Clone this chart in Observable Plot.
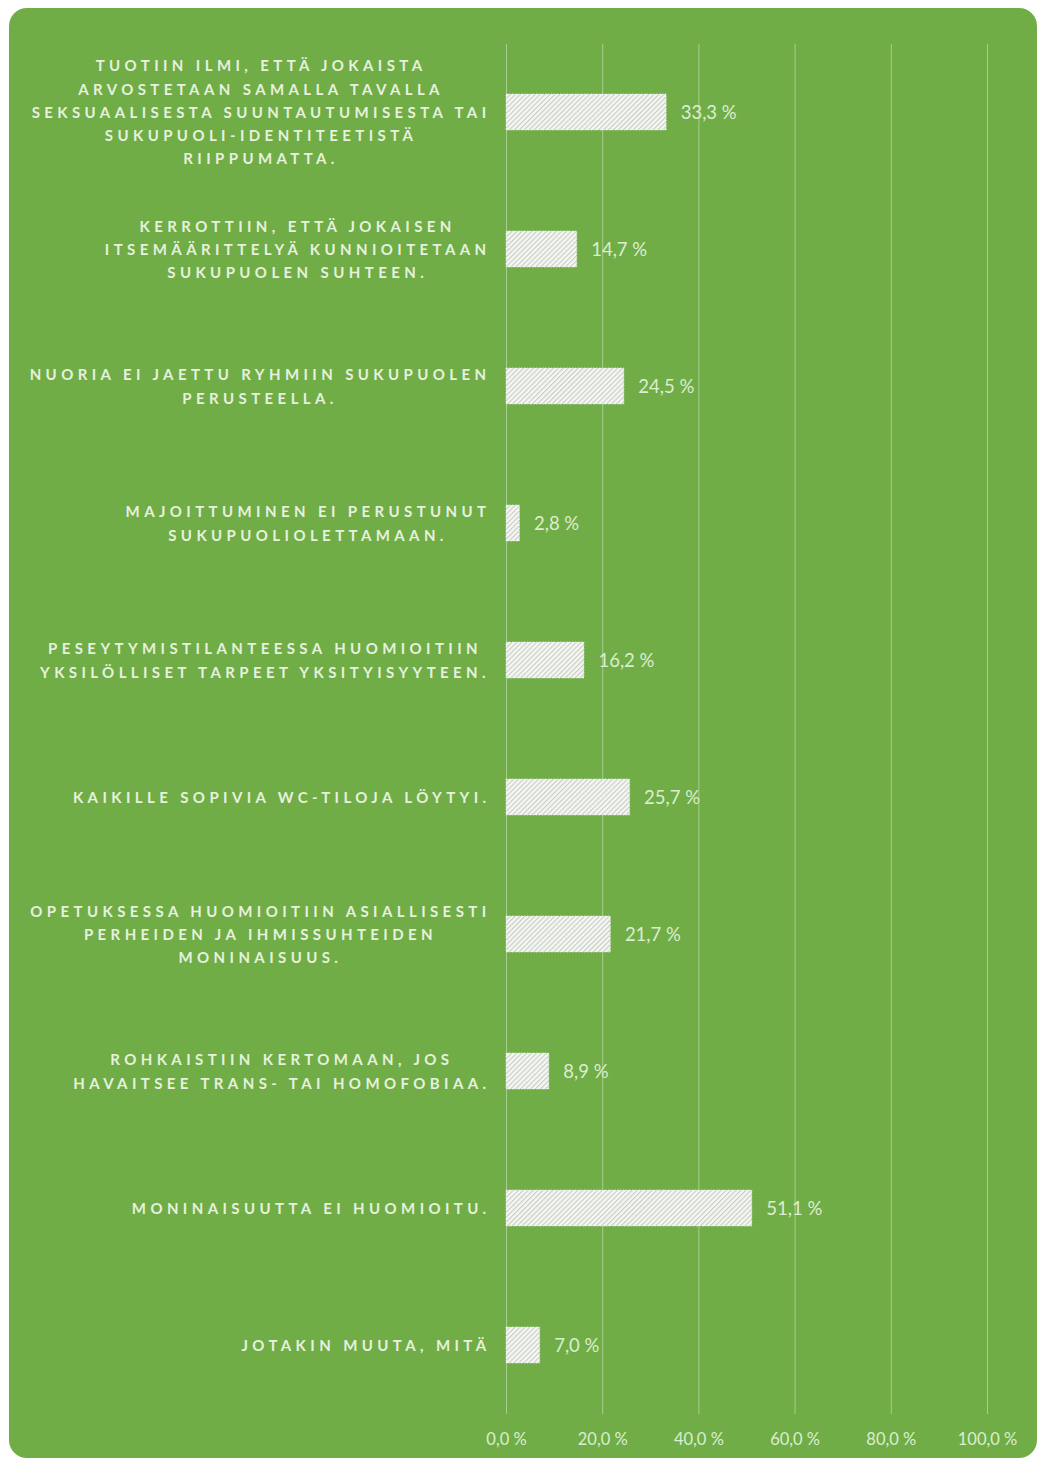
<!DOCTYPE html>
<html>
<head>
<meta charset="utf-8">
<script src="https://cdn.jsdelivr.net/npm/d3@7"></script>
<script src="https://cdn.jsdelivr.net/npm/@observablehq/plot@0.6"></script>
<style>
  html, body { margin: 0; padding: 0; background: #ffffff; }
  #wrap { position: relative; width: 1038px; height: 1463px; overflow: hidden; }
  #bg { position: absolute; left: 9px; top: 8px; width: 1028px; height: 1450px; background: #70AD47; border-radius: 18px; }
  #chart { position: absolute; left: 0; top: 0; }
</style>
</head>
<body>
<svg width="0" height="0" style="position:absolute">
  <defs>
    <pattern id="hatch" width="3.5" height="3.5" patternUnits="userSpaceOnUse" patternTransform="rotate(45)">
      <rect width="3.5" height="3.5" fill="#f5f7f2"></rect>
      <line x1="0.6" y1="0" x2="0.6" y2="3.5" stroke="#c4c6c0" stroke-width="1"></line>
    </pattern>
  </defs>
</svg>
<div id="wrap"><div id="bg"></div><div id="chart"></div></div>
<script>
const categories = [
  "TUOTIIN ILMI, ETTÄ JOKAISTA\nARVOSTETAAN SAMALLA TAVALLA\nSEKSUAALISESTA SUUNTAUTUMISESTA TAI\nSUKUPUOLI-IDENTITEETISTÄ\nRIIPPUMATTA.",
  "KERROTTIIN, ETTÄ JOKAISEN\nITSEMÄÄRITTELYÄ KUNNIOITETAAN\nSUKUPUOLEN SUHTEEN.",
  "NUORIA EI JAETTU RYHMIIN SUKUPUOLEN\nPERUSTEELLA.",
  "MAJOITTUMINEN EI PERUSTUNUT\nSUKUPUOLIOLETTAMAAN.",
  "PESEYTYMISTILANTEESSA HUOMIOITIIN\nYKSILÖLLISET TARPEET YKSITYISYYTEEN.",
  "KAIKILLE SOPIVIA WC-TILOJA LÖYTYI.",
  "OPETUKSESSA HUOMIOITIIN ASIALLISESTI\nPERHEIDEN JA IHMISSUHTEIDEN\nMONINAISUUS.",
  "ROHKAISTIIN KERTOMAAN, JOS\nHAVAITSEE TRANS- TAI HOMOFOBIAA.",
  "MONINAISUUTTA EI HUOMIOITU.",
  "JOTAKIN MUUTA, MITÄ"
];
const values = [33.3, 14.7, 24.5, 2.8, 16.2, 25.7, 21.7, 8.9, 51.1, 7.0];
const xTicks = [0, 20, 40, 60, 80, 100];

const data = categories.map((c, i) => ({category: c, value: values[i]}));
const fmt = v => v.toFixed(1).replace(".", ",") + " %";
const textColor = "#E6F1DE";
const valueColor = "#DCEDD0";

const chart = Plot.plot({
  width: 1038,
  height: 1463,
  marginLeft: 506,
  marginRight: 51,
  marginTop: 44,
  marginBottom: 49,
  style: {background: "transparent", color: valueColor, fontFamily: "Lato, 'Open Sans', sans-serif", fontSize: "16.5px"},
  x: {domain: [0, 100], ticks: xTicks, tickFormat: fmt, tickSize: 0, tickPadding: 19, label: null},
  y: {domain: categories, axis: null, paddingInner: 0.737, paddingOuter: 0.3685},
  marks: [
    Plot.gridX(xTicks, {stroke: "#ffffff", strokeOpacity: 0.4, strokeWidth: 1}),
    Plot.barX(data, {x: "value", y: "category", fill: "url(#hatch)", stroke: "#e8ebe4", strokeWidth: 0.8, strokeDasharray: "1.5,1.5"}),
    Plot.text(data, {x: "value", y: "category", text: d => fmt(d.value), textAnchor: "start", dx: 14, dy: 1, fontSize: 18.5, fill: valueColor}),
    Plot.text(data, {y: "category", text: "category", frameAnchor: "left", textAnchor: "middle", dy: -2, lineHeight: 1.55, fontSize: 15, fontWeight: "bold", fill: textColor, className: "catlab"})
  ]
});

document.getElementById("chart").appendChild(chart);

// right-align each label block to the axis gutter while keeping its lines centred
chart.querySelectorAll("g.catlab text").forEach(el => {
  el.style.letterSpacing = "4.4px";
});
chart.querySelectorAll("g.catlab text").forEach(el => {
  const w = el.getBBox().width;
  const shift = 490 - w / 2 - 506;
  el.setAttribute("transform", (el.getAttribute("transform") || "") + ` translate(${shift},0)`);
});
</script>
</body>
</html>
